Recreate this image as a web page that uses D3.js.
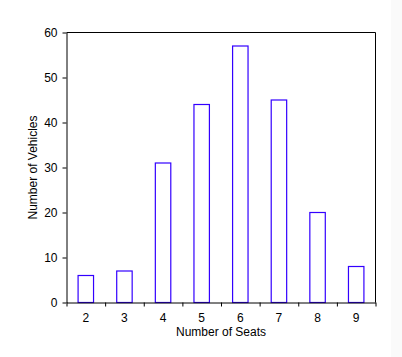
<!DOCTYPE html>
<html><head><meta charset="utf-8">
<script src="https://cdn.jsdelivr.net/npm/d3@7"></script>
<style>html,body{margin:0;padding:0;background:#fff;}svg{display:block;}</style>
</head><body>
<svg id="c" width="402" height="357"></svg>
<script>
const categories = ["2","3","4","5","6","7","8","9"];
const values = [6, 7, 31, 44, 57, 45, 20, 8];
const yTicks = [0, 10, 20, 30, 40, 50, 60];
const xTitle = "Number of Seats";
const yTitle = "Number of Vehicles";

const svg = d3.select("#c");
const m = {left: 66.5, right: 375.5, top: 32.5, bottom: 302.5};
svg.append("rect").attr("x", 391).attr("y", 0).attr("width", 11).attr("height", 357).attr("fill", "#fafafa");

const x = d3.scaleBand().domain(categories).range([m.left, m.right]).paddingInner(0.6).paddingOuter(0.3);
const xb = d3.scaleLinear().domain([0, categories.length]).range([m.left, m.right]);
const y = d3.scaleLinear().domain([0, 60]).range([m.bottom, m.top]);
const font = "Liberation Sans, Arial, sans-serif";

// bars
svg.append("g").selectAll("rect").data(values).join("rect")
  .attr("x", (d, i) => x(categories[i]))
  .attr("y", d => y(d))
  .attr("width", x.bandwidth())
  .attr("height", d => y(0) - y(d))
  .attr("fill", "none")
  .attr("stroke", "#3300ff")
  .attr("stroke-width", 1.2);

// frame
svg.append("line").attr("x1", m.left).attr("x2", m.right).attr("y1", m.top).attr("y2", m.top).attr("stroke", "#000");
svg.append("line").attr("x1", m.right).attr("x2", m.right).attr("y1", m.top).attr("y2", m.bottom).attr("stroke", "#000");

// y axis
const ya = svg.append("g").attr("transform", `translate(${m.left},0)`)
  .call(d3.axisLeft(y).tickValues(yTicks).tickSize(4).tickPadding(5).tickSizeOuter(0));
ya.select(".domain").attr("stroke", "#000");
ya.selectAll("text").attr("font-family", font).attr("font-size", 12).attr("fill", "#000");

// x axis: ticks at band boundaries, labels at centers
const xa = svg.append("g").attr("transform", `translate(0,${m.bottom})`)
  .call(d3.axisBottom(xb).tickValues(d3.range(categories.length + 1)).tickSize(4).tickFormat("").tickSizeOuter(0));
xa.select(".domain").attr("stroke", "#000");
svg.append("g").selectAll("text").data(categories).join("text")
  .attr("x", d => x(d) + x.bandwidth() / 2)
  .attr("y", 322)
  .attr("text-anchor", "middle")
  .attr("font-family", font).attr("font-size", 12)
  .text(d => d);

svg.append("text").attr("x", (m.left + m.right) / 2).attr("y", 336)
  .attr("text-anchor", "middle").attr("font-family", font).attr("font-size", 12).text(xTitle);
svg.append("text").attr("transform", `translate(37,${(m.top + m.bottom) / 2}) rotate(-90)`)
  .attr("text-anchor", "middle").attr("font-family", font).attr("font-size", 12).text(yTitle);
</script>
</body></html>
